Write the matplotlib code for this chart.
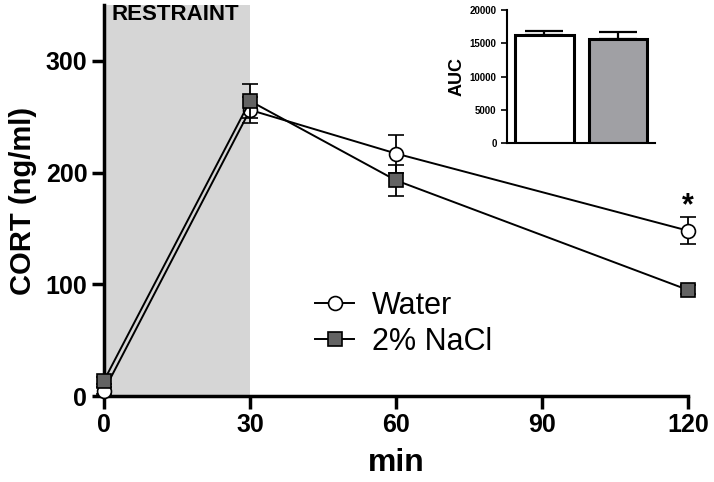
import matplotlib
matplotlib.use("Agg")
import matplotlib.pyplot as plt
from matplotlib.lines import Line2D

# time course (min) and CORT values (ng/ml)
minutes = [0, 30, 60, 120]
water_mean = [5, 256, 217, 148]
water_sem = [3, 12, 17, 12]
nacl_mean = [14, 264, 193, 95]
nacl_sem = [3, 15, 14, 4]

# inset AUC
groups = ["Water", "2% NaCl"]
auc_mean = [16300, 15650]
auc_sem = [600, 1000]

ARIAL = ["Liberation Sans", "DejaVu Sans"]
plt.rcParams["font.family"] = ARIAL
plt.rcParams["font.weight"] = "bold"

fig = plt.figure(figsize=(7.14, 4.82), dpi=100)
ax = fig.add_axes([0.1457, 0.178, 0.818, 0.812])

ax.axvspan(0, 30, color="#d6d6d6", zorder=0, lw=0)
ax.text(1.6, 341, "RESTRAINT", fontsize=16, fontweight="bold",
        va="center", ha="left")

water_style = dict(color="black", lw=1.4, marker="o", ms=10, mfc="white",
                   mec="black", mew=1.2)
nacl_style = dict(color="black", lw=1.4, marker="s", ms=10, mfc="#636363",
                  mec="black", mew=1.2)

ax.errorbar(minutes, water_mean, yerr=water_sem, capsize=6, elinewidth=1.3,
            capthick=1.3, clip_on=False, zorder=3, **water_style)
ax.errorbar(minutes, nacl_mean, yerr=nacl_sem, capsize=6, elinewidth=1.3,
            capthick=1.3, clip_on=False, zorder=4, **nacl_style)

ax.text(120, 170, "*", fontsize=22, ha="center", va="center")

ax.set_xlim(0, 120)
ax.set_ylim(0, 350)
ax.set_xticks([0, 30, 60, 90, 120])
ax.set_yticks([0, 100, 200, 300])
for s in ["top", "right"]:
    ax.spines[s].set_visible(False)
for s in ["left", "bottom"]:
    ax.spines[s].set_linewidth(2.5)
ax.tick_params(width=2.5, length=9, labelsize=18, pad=3)
ax.set_xlabel("min", fontsize=23, fontweight="bold", labelpad=8)
ax.set_ylabel("CORT (ng/ml)", fontsize=21, fontweight="bold", labelpad=6)

handles = [Line2D([], [], **water_style), Line2D([], [], **nacl_style)]
ax.legend(handles, groups, loc="center left", bbox_to_anchor=(0.362, 0.185),
          frameon=False, prop={"size": 22, "weight": "normal"},
          handlelength=1.25, handletextpad=0.6, labelspacing=0.2,
          borderpad=0, borderaxespad=0)

# inset
ins = fig.add_axes([0.710, 0.703, 0.207, 0.276])
ins.bar([0, 1], auc_mean, width=0.8, color=["white", "#a0a0a4"],
        edgecolor="black", linewidth=2.2)
ins.errorbar([0, 1], auc_mean, yerr=[[0, 0], auc_sem], fmt="none",
             ecolor="black", elinewidth=1.6, capsize=14, capthick=1.6)
ins.set_xlim(-0.51, 1.5)
ins.set_ylim(0, 20000)
ins.set_yticks([0, 5000, 10000, 15000, 20000])
ins.set_xticks([])
for s in ["top", "right"]:
    ins.spines[s].set_visible(False)
for s in ["left", "bottom"]:
    ins.spines[s].set_linewidth(1.5)
ins.tick_params(axis="y", width=1.2, length=4, labelsize=7)
ins.set_ylabel("AUC", fontsize=13, fontweight="bold", labelpad=3)

fig.savefig("out.png", dpi=100)
